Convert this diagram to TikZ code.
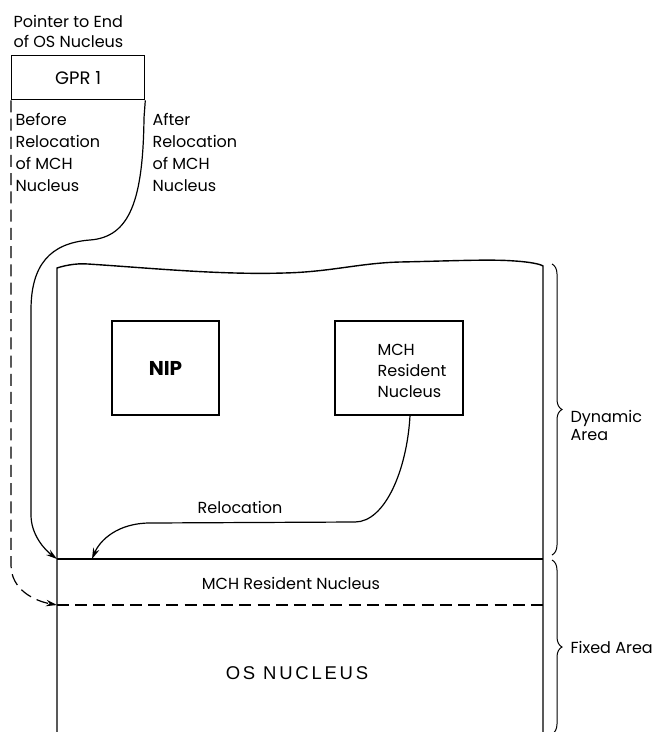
\documentclass[tikz,border=0pt]{standalone}
\usepackage{fontspec}
\setmainfont{Poppins}
\newfontfamily\gothic{Liberation Sans}[LetterSpace=15]
\usetikzlibrary{arrows.meta,decorations.pathreplacing}

\begin{document}
\begin{tikzpicture}[x=1pt, y=-1pt, line width=1.2pt,
  lbl/.style={inner sep=0pt, align=left, font=\fontsize{16}{#1}\selectfont},
  lbl/.default=22,
  box/.style={draw, line width=1.3pt, inner sep=0pt},
  tip/.style={-{Stealth[length=11pt, width=6.5pt]}},
  dashline/.style={dash pattern=on 12pt off 6.23pt},
  brc/.style={decorate, decoration={brace, amplitude=10pt}, line width=1pt}]
\useasboundingbox (0,0) rectangle (659,732);

% register holding the pointer (multi-line texts are anchored at their last baseline)
\node[box, minimum width=133pt, minimum height=44pt, anchor=north west,
      font=\fontsize{18}{20}\selectfont] (gpr) at (11,55) {GPR 1};
\node[lbl=20, anchor=base west] (ptr) at (13,47) {Pointer to End\\of OS Nucleus};
\node[lbl, anchor=base west] (before) at (15,191) {Before\\Relocation\\of MCH\\Nucleus};
\node[lbl, anchor=base west] (after) at (152,191) {After\\Relocation\\of MCH\\Nucleus};

% storage outline with torn top edge
\coordinate (tl) at (57,268);
\coordinate (tr) at (543,266);
\coordinate (bl) at (57,732);
\coordinate (br) at (543,732);
\coordinate (dl) at (57,559);
\coordinate (dr) at (543,559);
\coordinate (fl) at (57,605);
\coordinate (fr) at (543,605);
\draw[line width=1.4pt] (bl) -- (tl) .. controls (63,266) and (75,263) .. (88,264)
  .. controls (150,268) and (220,275) .. (284,273)
  .. controls (330,272) and (360,263) .. (400,262)
  .. controls (450,261) and (490,259) .. (515,261)
  .. controls (530,262) and (540,264) .. (tr) -- (br);
\draw (dl) -- (dr);
\draw[dashline] (fl) -- (fr);

% modules in the dynamic area
\node[box, minimum width=107pt, minimum height=94pt,
      font=\fontsize{20}{22}\selectfont\bfseries] (nip) at (165.5,368) {NIP};
\node[box, minimum width=128pt, minimum height=94pt] (mch) at (399,368) {};
\node[lbl=21, anchor=base west] (mchtext) at (377,397) {MCH\\Resident\\Nucleus};

% pointer paths
\draw[tip] (gpr.south east) -- (144,118) .. controls (143,200) and (130,237) .. (90,240)
  .. controls (50,243) and (31,265) .. (31,310) -- (31,515)
  .. controls (31,535) and (45,550) .. (dl);
\draw[tip, dashline] (gpr.south west) -- (11,565) .. controls (11,590) and (35,601) .. (fl);

% relocation move
\coordinate (newmch) at (92,559);
\draw[tip] ([xshift=11pt]mch.south) .. controls (407,470) and (385,522) .. (355,522)
  -- (150,523) .. controls (118,523) and (100,540) .. (newmch);
\node[lbl, anchor=base] (reloc) at (240,513) {Relocation};

% area texts
\node[lbl, anchor=base] (mchres) at (291,589) {MCH Resident Nucleus};
\node[inner sep=0pt, anchor=base, font=\gothic\fontsize{18.5}{20}\selectfont] (os) at (297,679) {OS NUCLEUS};

% area braces
\draw[brc] (552,264) -- (552,555);
\draw[brc] (552,560) -- (552,734);
\node[lbl=18, anchor=base west] (dyn) at (570,440) {Dynamic\\Area};
\node[lbl, anchor=base west] (fixed) at (570,653) {Fixed Area};
\end{tikzpicture}
\end{document}
